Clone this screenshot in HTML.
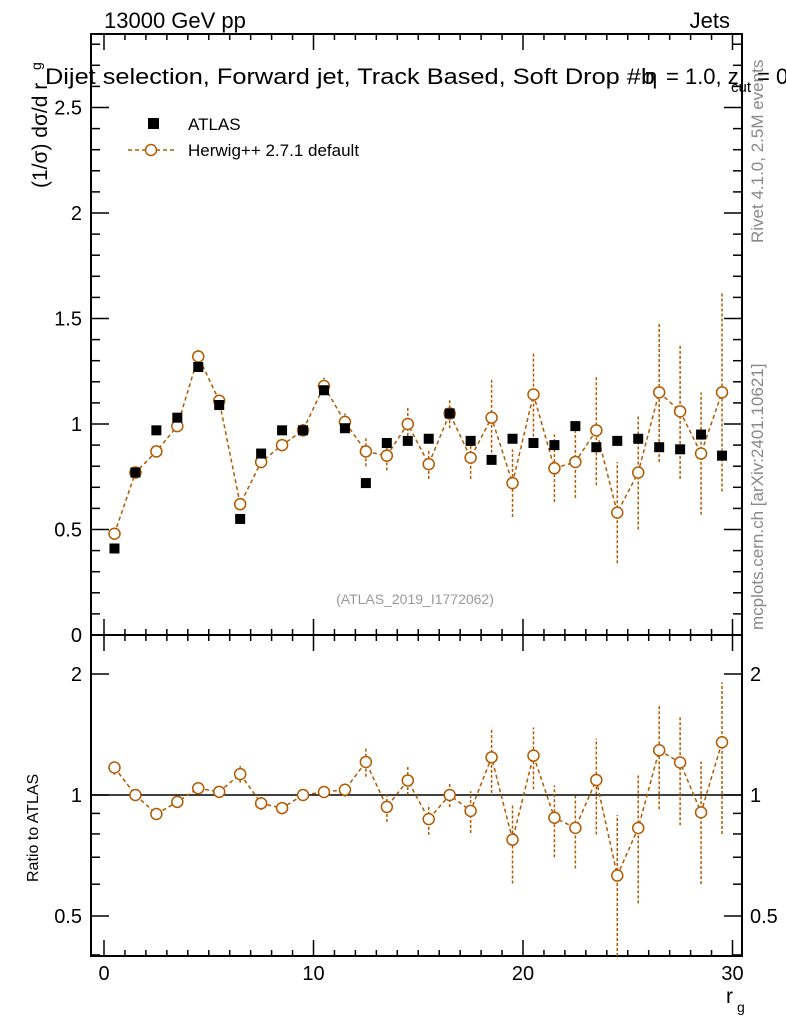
<!DOCTYPE html>
<html><head><meta charset="utf-8"><style>
body{margin:0;background:#fff;}
svg{font-family:"Liberation Sans",sans-serif;}
</style></head><body>
<svg id="c" width="786" height="1024" xmlns="http://www.w3.org/2000/svg"></svg>
<script>
const xCenters=[0.5,1.5,2.5,3.5,4.5,5.5,6.5,7.5,8.5,9.5,10.5,11.5,12.5,13.5,14.5,15.5,16.5,17.5,18.5,19.5,20.5,21.5,22.5,23.5,24.5,25.5,26.5,27.5,28.5,29.5];
const atlasVals=[0.41,0.77,0.97,1.03,1.27,1.09,0.55,0.86,0.97,0.97,1.16,0.98,0.72,0.91,0.92,0.93,1.05,0.92,0.83,0.93,0.91,0.90,0.99,0.89,0.92,0.93,0.89,0.88,0.95,0.85];
const herwigVals=[0.48,0.77,0.87,0.99,1.32,1.11,0.62,0.82,0.90,0.97,1.18,1.01,0.87,0.85,1.00,0.81,1.05,0.84,1.03,0.72,1.14,0.79,0.82,0.97,0.58,0.77,1.15,1.06,0.86,1.15];
const herwigErr=[0.02,0.02,0.02,0.02,0.03,0.03,0.03,0.03,0.03,0.03,0.04,0.04,0.07,0.07,0.08,0.07,0.07,0.1,0.19,0.16,0.2,0.16,0.17,0.26,0.24,0.27,0.33,0.32,0.29,0.47];
const mainTicks=[0.5,1,1.5,2,2.5];
const ratioTicks=[0.5,1,2];
const xTicks=[0,10,20,30];

const S=document.getElementById('c');const NS='http://www.w3.org/2000/svg';
function el(t,a,p){const e=document.createElementNS(NS,t);for(const k in a)e.setAttribute(k,a[k]);(p||S).appendChild(e);return e;}
const L=91,R=742,T=34,M=635,B=956;
const xs=v=>104+(v)*20.95;
const ym=v=>M-v*211;
const lg=Math.log;
const yr=v=>795-lg(v)/lg(2)*121;
const OR='#b35a00';
let f=el('rect',{x:L,y:T,width:R-L,height:M-T,fill:'none',stroke:'#000','stroke-width':2});

f=el('rect',{x:L,y:M,width:R-L,height:B-M,fill:'none',stroke:'#000','stroke-width':2});

for(let i=0;i<=30;i++){const x=xs(i),mj=i%10==0,h=mj?16:6;
 [T,M].forEach(y0=>{el('line',{x1:x,x2:x,y1:y0,y2:y0+h,stroke:'#000','stroke-width':1.5});});
 [M,B].forEach(y0=>{el('line',{x1:x,x2:x,y1:y0,y2:y0-h,stroke:'#000','stroke-width':1.5});});}
xTicks.forEach(v=>{const t=el('text',{x:xs(v),y:980,'font-size':20,'text-anchor':'middle'});t.textContent=v;
 });
for(let i=1;i<=28;i++){const v=i/10,y=ym(v),mj=i%5==0,w=mj?18:9;
 el('line',{x1:L,x2:L+w,y1:y,y2:y,stroke:'#000','stroke-width':1.5});
 el('line',{x1:R,x2:R-w,y1:y,y2:y,stroke:'#000','stroke-width':1.5});}
mainTicks.forEach(v=>{const t=el('text',{x:82,y:ym(v)+7,'font-size':20,'text-anchor':'end'});t.textContent=String(v);
 });
let t0=el('text',{x:82,y:642,'font-size':20,'text-anchor':'end'});t0.textContent='0';
[0.4,0.5,0.6,0.7,0.8,0.9,1,2].forEach(v=>{const y=yr(v),mj=ratioTicks.includes(v),w=mj?18:9;
 el('line',{x1:L,x2:L+w,y1:y,y2:y,stroke:'#000','stroke-width':1.5});
 el('line',{x1:R,x2:R-w,y1:y,y2:y,stroke:'#000','stroke-width':1.5});});
ratioTicks.forEach(v=>{const y=yr(v)+7;
 let t=el('text',{x:82,y:y,'font-size':20,'text-anchor':'end'});t.textContent=String(v);
 
 t=el('text',{x:750,y:y,'font-size':20});t.textContent=String(v);});
el('line',{x1:L,x2:R,y1:yr(1),y2:yr(1),stroke:'#000','stroke-width':1.5});
let pts=xCenters.map((x,i)=>xs(x)+','+ym(herwigVals[i])).join(' ');
let pl=el('polyline',{points:pts,fill:'none',stroke:OR,'stroke-width':1.5,'stroke-dasharray':'4,3'});

xCenters.forEach((x,i)=>{const v=herwigVals[i],e=herwigErr[i];
 el('line',{x1:xs(x),x2:xs(x),y1:ym(v-e),y2:ym(v+e),stroke:OR,'stroke-width':1.5,'stroke-dasharray':'3,2'});
 const c=el('circle',{cx:xs(x),cy:ym(v),r:5.5,fill:'#fff',stroke:OR,'stroke-width':1.5});
 
 const r=el('rect',{x:xs(x)-5,y:ym(atlasVals[i])-5,width:10,height:10,fill:'#000'});
 });
pts=xCenters.map((x,i)=>xs(x)+','+yr(herwigVals[i]/atlasVals[i])).join(' ');
pl=el('polyline',{points:pts,fill:'none',stroke:OR,'stroke-width':1.5,'stroke-dasharray':'4,3'});

xCenters.forEach((x,i)=>{const r=herwigVals[i]/atlasVals[i],e=herwigErr[i]/atlasVals[i];
 el('line',{x1:xs(x),x2:xs(x),y1:Math.min(B,yr(Math.max(0.3,r-e))),y2:yr(r+e),stroke:OR,'stroke-width':1.5,'stroke-dasharray':'3,2'});
 const c=el('circle',{cx:xs(x),cy:yr(r),r:5.5,fill:'#fff',stroke:OR,'stroke-width':1.5});
 });
function tx(s,a,name){const t=el('text',a);t.textContent=s;return t;}
tx('13000 GeV pp',{x:104,y:28,'font-size':22},'energy-label');
tx('Jets',{x:730,y:28,'font-size':22,'text-anchor':'end'},'process-label');
tx('Dijet selection, Forward jet, Track Based, Soft Drop #b',{x:45,y:84,'font-size':22,textLength:610,lengthAdjust:'spacingAndGlyphs'},'plot-title');
tx('η',{x:645,y:84,'font-size':22},'title-beta');
tx('= 1.0, z',{x:666,y:84,'font-size':22},'title-z');
tx('cut',{x:731,y:92,'font-size':15},'title-cut');
tx('= 0.1',{x:757,y:84,'font-size':22},'title-end');
const r1=el('rect',{x:148,y:118,width:11,height:11,fill:'#000'});

tx('ATLAS',{x:188,y:130,'font-size':17},'legend-atlas');
el('line',{x1:128,x2:174,y1:150,y2:150,stroke:OR,'stroke-width':1.5,'stroke-dasharray':'4,3'});
el('circle',{cx:151,cy:150,r:5.5,fill:'#fff',stroke:OR,'stroke-width':1.5});
tx('Herwig++ 2.7.1 default',{x:188,y:156,'font-size':17},'legend-herwig');
tx('(ATLAS_2019_I1772062)',{x:415,y:604,'font-size':14,fill:'#999','text-anchor':'middle'},'analysis-id');
tx('r',{x:726,y:1003,'font-size':21},'x-axis-title');
tx('g',{x:737,y:1012,'font-size':14},'x-axis-sub');
tx('(1/σ) dσ/d r',{x:0,y:0,'font-size':21,transform:'translate(47,188) rotate(-90)'},'y-axis-title');
tx('g',{x:0,y:0,'font-size':14,transform:'translate(41,70) rotate(-90)'},'y-axis-sub');
tx('Ratio to ATLAS',{x:0,y:0,'font-size':16,transform:'translate(38,882) rotate(-90)'},'ratio-axis-title');
tx('Rivet 4.1.0,  2.5M events',{x:0,y:0,'font-size':17,fill:'#888',transform:'translate(763,243) rotate(-90)'},'rivet-label');
tx('mcplots.cern.ch [arXiv:2401.10621]',{x:0,y:0,'font-size':17,fill:'#888',transform:'translate(763,630) rotate(-90)'},'mcplots-label');
</script>
</body></html>
